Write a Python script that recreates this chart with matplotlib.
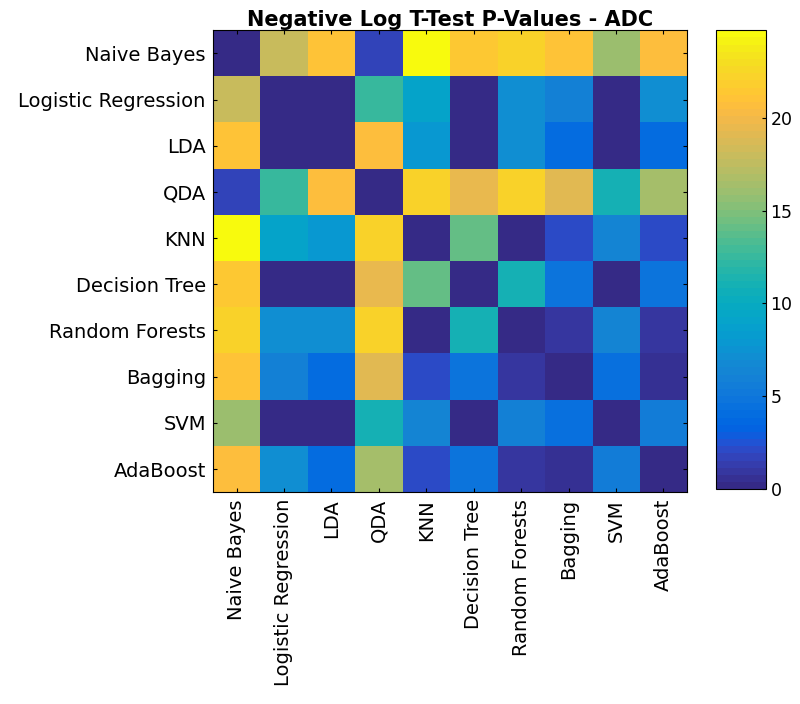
"""
    negative log t-test p-values heatmap (ADC)
"""

import numpy as np
import matplotlib.pyplot as plt
from matplotlib.colors import LinearSegmentedColormap

models = ['Naive Bayes', 'Logistic Regression', 'LDA', 'QDA', 'KNN',
          'Decision Tree', 'Random Forests', 'Bagging', 'SVM', 'AdaBoost']

nb    = [0.0, 18.0, 21.0, 1.8, 24.7, 21.5, 22.0, 21.2, 16.0, 20.5]
lr    = [18.0, 0.0, 0.0, 12.5, 9.2, 0.0, 7.0, 6.0, 0.0, 7.0]
lda   = [21.0, 0.0, 0.0, 20.5, 8.0, 0.0, 7.0, 4.0, 0.0, 4.0]
qda   = [1.8, 12.5, 20.5, 0.0, 22.0, 19.5, 22.0, 19.0, 11.0, 16.5]
knn   = [24.7, 9.2, 8.0, 22.0, 0.0, 14.0, 0.0, 2.0, 6.5, 2.0]
dt    = [21.5, 0.0, 0.0, 19.5, 14.0, 0.0, 11.0, 5.0, 0.0, 5.0]
rf    = [22.0, 7.0, 7.0, 22.0, 0.0, 11.0, 0.0, 1.0, 6.5, 1.0]
bag   = [21.2, 6.0, 4.0, 19.0, 2.0, 5.0, 1.0, 0.0, 4.5, 0.5]
svm   = [16.0, 0.0, 0.0, 11.0, 6.5, 0.0, 6.0, 4.5, 0.0, 5.5]
ada   = [20.5, 7.0, 4.0, 16.5, 2.0, 5.0, 1.0, 0.5, 5.5, 0.0]

# matlab parula (64 entries)
parula = [
    [0.2081, 0.1663, 0.5292], [0.2116, 0.1898, 0.5777], [0.2123, 0.2138, 0.6270],
    [0.2081, 0.2386, 0.6771], [0.1959, 0.2645, 0.7279], [0.1707, 0.2919, 0.7792],
    [0.1253, 0.3242, 0.8303], [0.0591, 0.3598, 0.8683], [0.0117, 0.3875, 0.8820],
    [0.0060, 0.4086, 0.8828], [0.0165, 0.4266, 0.8786], [0.0329, 0.4430, 0.8720],
    [0.0498, 0.4586, 0.8641], [0.0629, 0.4737, 0.8554], [0.0723, 0.4887, 0.8467],
    [0.0779, 0.5040, 0.8384], [0.0793, 0.5200, 0.8312], [0.0749, 0.5375, 0.8263],
    [0.0641, 0.5570, 0.8240], [0.0488, 0.5772, 0.8228], [0.0343, 0.5966, 0.8199],
    [0.0265, 0.6137, 0.8135], [0.0239, 0.6287, 0.8038], [0.0231, 0.6418, 0.7913],
    [0.0228, 0.6535, 0.7768], [0.0267, 0.6642, 0.7607], [0.0384, 0.6743, 0.7436],
    [0.0590, 0.6838, 0.7254], [0.0843, 0.6928, 0.7062], [0.1133, 0.7015, 0.6859],
    [0.1453, 0.7098, 0.6646], [0.1801, 0.7177, 0.6424], [0.2178, 0.7250, 0.6193],
    [0.2586, 0.7317, 0.5954], [0.3022, 0.7376, 0.5712], [0.3482, 0.7424, 0.5473],
    [0.3953, 0.7459, 0.5244], [0.4420, 0.7481, 0.5033], [0.4871, 0.7491, 0.4840],
    [0.5300, 0.7491, 0.4661], [0.5709, 0.7485, 0.4494], [0.6099, 0.7473, 0.4337],
    [0.6473, 0.7456, 0.4188], [0.6834, 0.7435, 0.4044], [0.7184, 0.7411, 0.3905],
    [0.7525, 0.7384, 0.3768], [0.7858, 0.7356, 0.3633], [0.8185, 0.7327, 0.3498],
    [0.8507, 0.7299, 0.3360], [0.8824, 0.7274, 0.3217], [0.9139, 0.7258, 0.3063],
    [0.9450, 0.7261, 0.2886], [0.9739, 0.7314, 0.2666], [0.9938, 0.7455, 0.2403],
    [0.9990, 0.7653, 0.2164], [0.9955, 0.7861, 0.1967], [0.9880, 0.8066, 0.1794],
    [0.9789, 0.8271, 0.1633], [0.9697, 0.8481, 0.1475], [0.9626, 0.8705, 0.1309],
    [0.9589, 0.8949, 0.1132], [0.9598, 0.9218, 0.0948], [0.9661, 0.9514, 0.0755],
    [0.9763, 0.9831, 0.0538]]
cmap = LinearSegmentedColormap.from_list('parula', parula, N=64)

data = np.array([nb, lr, lda, qda, knn, dt, rf, bag, svm, ada])

fig = plt.figure(figsize=(8, 7.04), dpi=100)
ax = fig.add_axes([0.266, 0.301, 0.593, 0.656])
cax = fig.add_axes([0.895, 0.305, 0.062, 0.652])

im = ax.imshow(data, cmap=cmap, vmin=0, vmax=24.7, aspect='auto',
               interpolation='nearest')
ax.set_xticks(range(len(models)))
ax.set_yticks(range(len(models)))
ax.set_xticklabels(models, rotation=90, fontsize=14)
ax.set_yticklabels(models, fontsize=14)
ax.tick_params(length=3, direction='in', top=True, right=True, pad=5)
ax.set_title('Negative Log T-Test P-Values - ADC', fontsize=15,
             fontweight='bold', pad=3)

cb = fig.colorbar(im, cax=cax, ticks=[0, 5, 10, 15, 20])
cb.ax.tick_params(labelsize=12.5, length=3, direction='in')

plt.savefig('out.png')
plt.close()
